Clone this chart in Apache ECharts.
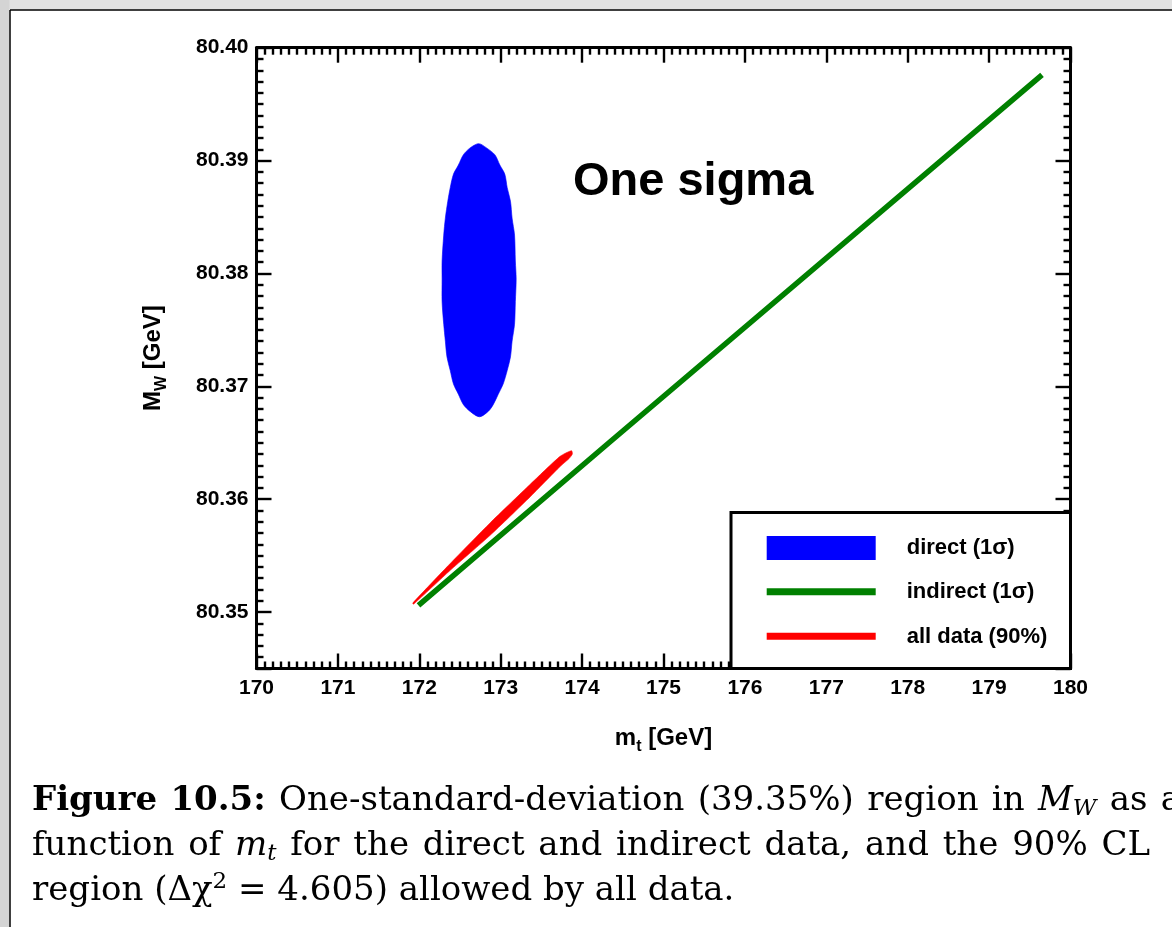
<!DOCTYPE html>
<html><head><meta charset="utf-8">
<script src="https://cdn.jsdelivr.net/npm/echarts@6/dist/echarts.min.js"></script>
<style>html,body{margin:0;padding:0;background:#fff}#c{width:1172px;height:927px}</style>
</head><body><div id="c"></div>
<script>
// ---- data ----
const xRange = [170, 180];
const yRange = [80.345, 80.40];
const yMajorTicks = [80.35, 80.36, 80.37, 80.38, 80.39, 80.40];

// direct (1 sigma) contour, traced clockwise from the top
const directMt = [172.73, 172.83, 172.93, 172.99, 173.05, 173.08, 173.12, 173.14, 173.17, 173.18,
                  173.19, 173.18, 173.17, 173.14, 173.12, 173.08, 173.03, 172.97, 172.91, 172.85,
                  172.74, 172.62, 172.54, 172.48, 172.42, 172.38, 172.34, 172.32, 172.30, 172.28,
                  172.28, 172.28, 172.30, 172.32, 172.35, 172.38, 172.42, 172.48, 172.54, 172.62];
const directMw = [80.3915, 80.3911, 80.3905, 80.3896, 80.3888, 80.3876, 80.3864, 80.3849, 80.3834, 80.3811,
                  80.3795, 80.3775, 80.3755, 80.3740, 80.3726, 80.3714, 80.3702, 80.3693, 80.3684, 80.3678,
                  80.3673, 80.3678, 80.3684, 80.3693, 80.3702, 80.3714, 80.3726, 80.3740, 80.3755, 80.3775,
                  80.3795, 80.3811, 80.3834, 80.3849, 80.3864, 80.3876, 80.3888, 80.3896, 80.3905, 80.3911];

// indirect (1 sigma) band centre line
const indirectMt = [171.99, 174.33, 179.65];
const indirectMw = [80.3506, 80.3650, 80.3976];

// all data (90%) narrow contour: upper edge left->right, then lower edge right->left
const allMt = [171.92, 172.38, 172.87, 173.36, 173.73, 173.87, 173.88, 173.84, 173.73, 173.36, 172.87, 172.38, 171.93];
const allMw = [80.3508, 80.3543, 80.3579, 80.3613, 80.3638, 80.3643, 80.3640, 80.3636, 80.3629, 80.3602, 80.3568, 80.3537, 80.3507];

const seriesNames = ['direct (1σ)', 'indirect (1σ)', 'all data (90%)'];
const seriesColors = ['#0000ff', '#008000', '#ff0000'];

// ---- chart ----
const SANS = "'Liberation Sans', Arial, sans-serif";
const SERIF = "'DejaVu Serif', serif";
const chart = echarts.init(document.getElementById('c'), null, {renderer: 'canvas'});

function polyRenderer(mts, mws, color, smooth) {
  return function (params, api) {
    if (params.dataIndex !== 0) return null;
    const pts = mts.map((m, i) => api.coord([m, mws[i]]));
    return {type: 'polygon', shape: {points: pts, smooth: smooth},
            style: {fill: color, stroke: color, lineWidth: 0.6}};
  };
}
function pairs(a, b) { return a.map((v, i) => [v, b[i]]); }

const tickStyle = {color: '#000', width: 2.4};
const nameRich = {
  m: {fontFamily: SANS, fontWeight: 'bold', fontSize: 24, color: '#000', lineHeight: 32, verticalAlign: 'middle'},
  s: {fontFamily: SANS, fontWeight: 'bold', fontSize: 16, color: '#000', lineHeight: 15, verticalAlign: 'bottom'}
};
function xAx(pos, withLabels) {
  return {
    type: 'value', position: pos, min: xRange[0], max: xRange[1], interval: 1,
    axisLine: {show: true, onZero: false, lineStyle: {color: '#000', width: 3}},
    axisTick: {show: true, inside: true, length: 15, lineStyle: tickStyle},
    minorTick: {show: true, splitNumber: 10, length: 7, lineStyle: tickStyle},
    splitLine: {show: false},
    axisLabel: withLabels ? {show: true, margin: 9, color: '#000', fontFamily: SANS, fontWeight: 'bold', fontSize: 21} : {show: false},
    name: withLabels ? '{m|m}{s|t}{m| [GeV]}' : '',
    nameLocation: 'middle', nameGap: 54,
    nameTextStyle: {rich: nameRich}
  };
}
function yAx(pos, withLabels) {
  return {
    type: 'value', position: pos, min: yRange[0], max: yRange[1],
    splitNumber: 5, minInterval: 0.01, maxInterval: 0.01,
    axisLine: {show: true, onZero: false, lineStyle: {color: '#000', width: 3}},
    axisTick: {show: true, inside: true, length: 15, lineStyle: tickStyle},
    minorTick: {show: true, splitNumber: 10, length: 7, lineStyle: tickStyle},
    splitLine: {show: false},
    axisLabel: withLabels ? {show: true, showMinLabel: false, margin: 8, color: '#000', fontFamily: SANS, fontWeight: 'bold', fontSize: 21,
      formatter: v => (yMajorTicks.some(t => Math.abs(t - v) < 1e-6) ? v.toFixed(2) : '')} : {show: false},
    name: withLabels ? '{m|M}{s|W}{m| [GeV]}' : '',
    nameLocation: 'middle', nameGap: 87,
    nameTextStyle: {rich: nameRich}
  };
}

function capRich(sp) {
  return {
    b: {fontFamily: SERIF, fontWeight: 'bold', fontSize: 34, color: '#000', lineHeight: 40, verticalAlign: 'middle'},
    i: {fontFamily: SERIF, fontStyle: 'italic', fontSize: 34, color: '#000', lineHeight: 40, verticalAlign: 'middle'},
    is: {fontFamily: SERIF, fontStyle: 'italic', fontSize: 23, color: '#000', lineHeight: 22, verticalAlign: 'bottom'},
    sup: {fontFamily: SERIF, fontSize: 23, color: '#000', lineHeight: 22, verticalAlign: 'top'},
    sp: {fontFamily: SERIF, fontSize: 34, color: '#000', lineHeight: 40, verticalAlign: 'middle', width: sp}
  };
}
function capText(y, txt, sp) {
  return {type: 'text', left: 32, top: y, z: 50,
    style: {text: txt, fontFamily: SERIF, fontSize: 34, fill: '#000', lineHeight: 40, rich: capRich(sp)}};
}

const LX = 731, LY = 512.5, LW = 339.5, LH = 156;
const legendText = (t, y) => ({type: 'text', x: 906.7, y: y, z: 101,
  style: {text: t, fontFamily: SANS, fontWeight: 'bold', fontSize: 22, fill: '#000', verticalAlign: 'middle'}});
const option = {
  backgroundColor: '#ffffff',
  animation: false,
  grid: {left: 256.5, right: 101.5, top: 47.7, bottom: 258.5, containLabel: false},
  xAxis: [xAx('bottom', true), xAx('top', false)],
  yAxis: [yAx('left', true), yAx('right', false)],
  series: [
    {type: 'custom', name: seriesNames[0], renderItem: polyRenderer(directMt, directMw, seriesColors[0], 0.3),
     data: pairs(directMt, directMw), z: 3, silent: true},
    {type: 'line', name: seriesNames[1], data: pairs(indirectMt, indirectMw), showSymbol: false, symbol: 'none',
     lineStyle: {color: seriesColors[1], width: 5.5, cap: 'butt'}, z: 3, silent: true},
    {type: 'custom', name: seriesNames[2], renderItem: polyRenderer(allMt, allMw, seriesColors[2], 0.2),
     data: pairs(allMt, allMw), z: 4, silent: true}
  ],
  graphic: [
    // viewer background strips and page edge
    {type: 'rect', shape: {x: 0, y: 0, width: 1172, height: 9.5}, style: {fill: '#e2e2e2'}, z: 1},
    {type: 'rect', shape: {x: 0, y: 0, width: 9.5, height: 927}, style: {fill: '#d4d4d4'}, z: 1},
    {type: 'line', shape: {x1: 10, y1: 10, x2: 1172, y2: 10}, style: {stroke: '#000', lineWidth: 1.5}, z: 2},
    {type: 'line', shape: {x1: 10, y1: 10, x2: 10, y2: 927}, style: {stroke: '#000', lineWidth: 1.5}, z: 2},
    // annotation
    {type: 'text', left: 573, top: 159, z: 50,
     style: {text: 'One sigma', fontFamily: SANS, fontWeight: 'bold', fontSize: 47, fill: '#000'}},
    // legend box
    {type: 'rect', shape: {x: LX, y: LY, width: LW, height: LH}, style: {fill: '#fff', stroke: '#000', lineWidth: 3}, z: 100},
    {type: 'rect', shape: {x: 766.7, y: 536, width: 109, height: 24}, style: {fill: seriesColors[0]}, z: 101},
    {type: 'rect', shape: {x: 766.7, y: 588.3, width: 109, height: 7}, style: {fill: seriesColors[1]}, z: 101},
    {type: 'rect', shape: {x: 766.7, y: 632.7, width: 109, height: 7}, style: {fill: seriesColors[2]}, z: 101},
    legendText(seriesNames[0], 547.5),
    legendText(seriesNames[1], 591.5),
    legendText(seriesNames[2], 636.5),
    // caption (justified lines use widened spaces)
    capText(781, '{b|Figure}{sp| }{b|10.5:}{sp| }One-standard-deviation{sp| }(39.35%){sp| }region{sp| }in{sp| }{i|M}{is|W}{sp| }as{sp| }a', 13.3),
    capText(826, 'function{sp| }of{sp| }{i|m}{is|t}{sp| }for{sp| }the{sp| }direct{sp| }and{sp| }indirect{sp| }data,{sp| }and{sp| }the{sp| }90%{sp| }CL', 13.8),
    capText(871, 'region (Δχ{sup|2} = 4.605) allowed by all data.', 11)
  ]
};
chart.setOption(option);
</script></body></html>
